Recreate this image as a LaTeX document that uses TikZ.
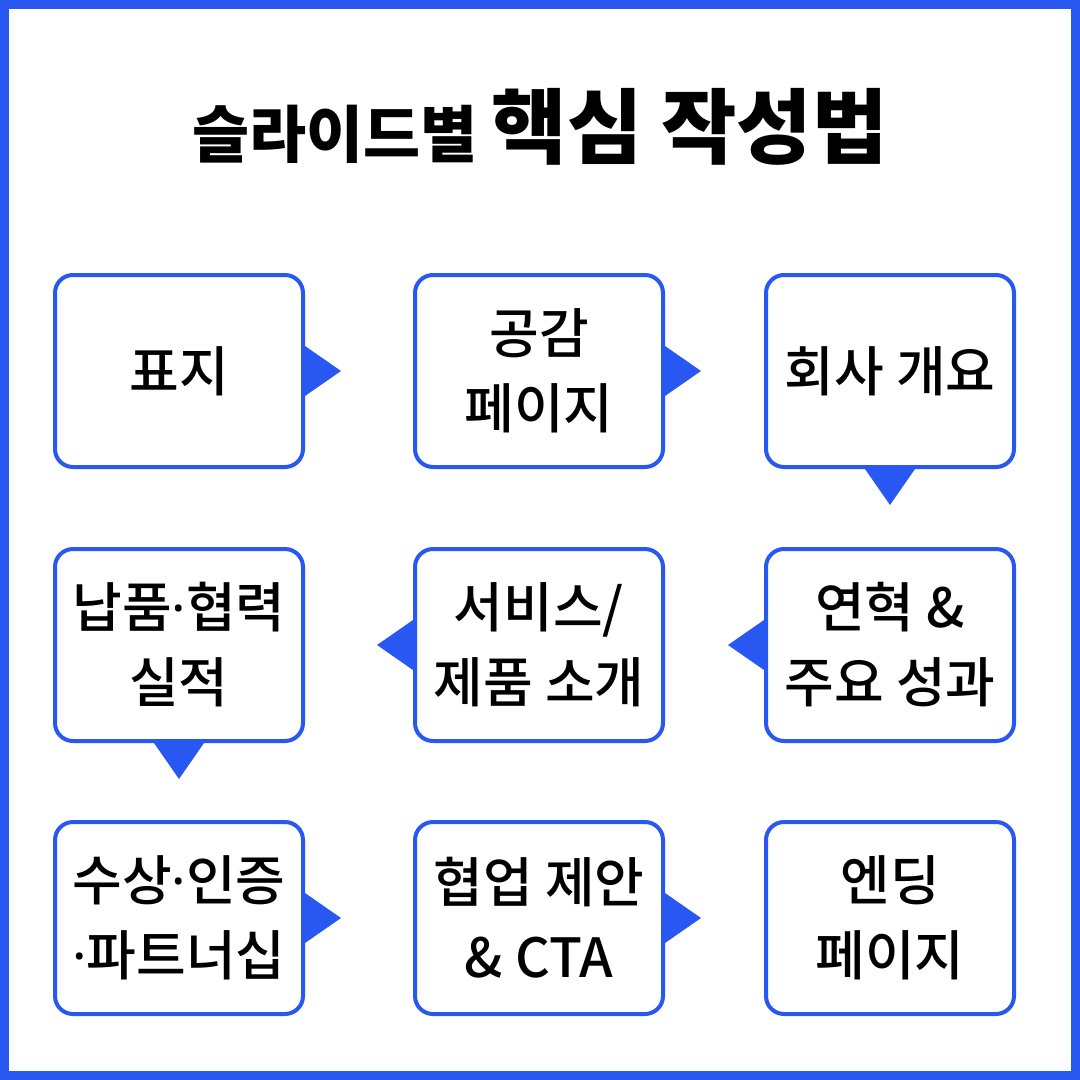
\documentclass[tikz,border=0pt]{standalone}
\usepackage{fontspec}
\newfontfamily\krmedium{Noto Sans CJK KR Medium}
\newfontfamily\krblack{Noto Sans CJK KR Black}
\newfontfamily\dotfont{Noto Sans}
\definecolor{brandblue}{RGB}{41,87,241}

\begin{document}
\begin{tikzpicture}[
    x=1pt, y=-1pt,
    slide/.style={
        draw=brandblue,
        line width=4pt,
        rounded corners=18pt,
        fill=white,
        align=center,
        font=\krmedium\fontsize{54}{75}\selectfont,
        minimum width=248pt,
        minimum height=192pt
    },
    pointer/.style={fill=brandblue}
]
    \useasboundingbox (0,0) rectangle (1080,1080);
    \draw[brandblue, line width=9pt] (4.5,4.5) rectangle (1075.5,1075.5);

    \node[anchor=base] (title) at (540,157)
        {\krblack\fontsize{62}{66}\selectfont 슬라이드별
         \fontsize{82}{84}\selectfont 핵심 작성법};

    % first row
    \node[slide] (cover) at (179,371) {표지};
    \node[slide] (empathy) at (539,371) {공감\\페이지};
    \node[slide] (company) at (890,371) {회사 개요};
    % second row
    \node[slide] (history) at (890,645) {연혁 \&\\주요 성과};
    \node[slide] (service) at (539,645) {서비스/\\제품 소개};
    \node[slide] (delivery) at (179,645) {납품{\dotfont\bfseries ·}협력\\실적};
    % third row
    \node[slide] (award) at (179,918) {수상{\dotfont\bfseries ·}인증\\{\dotfont\bfseries ·}파트너십};
    \node[slide] (proposal) at (539,918) {협업 제안\\\& CTA};
    \node[slide] (ending) at (890,918) {엔딩\\페이지};

    \foreach \n in {cover,empathy,award,proposal}
        \fill[pointer] ([yshift=25pt]\n.east) -- ([xshift=36pt]\n.east)
            -- ([yshift=-25pt]\n.east) -- cycle;
    \foreach \n in {history,service}
        \fill[pointer] ([yshift=25pt]\n.west) -- ([xshift=-36pt]\n.west)
            -- ([yshift=-25pt]\n.west) -- cycle;
    \foreach \n in {company,delivery}
        \fill[pointer] ([xshift=-25pt]\n.south) -- ([yshift=-36pt]\n.south)
            -- ([xshift=25pt]\n.south) -- cycle;
\end{tikzpicture}
\end{document}
